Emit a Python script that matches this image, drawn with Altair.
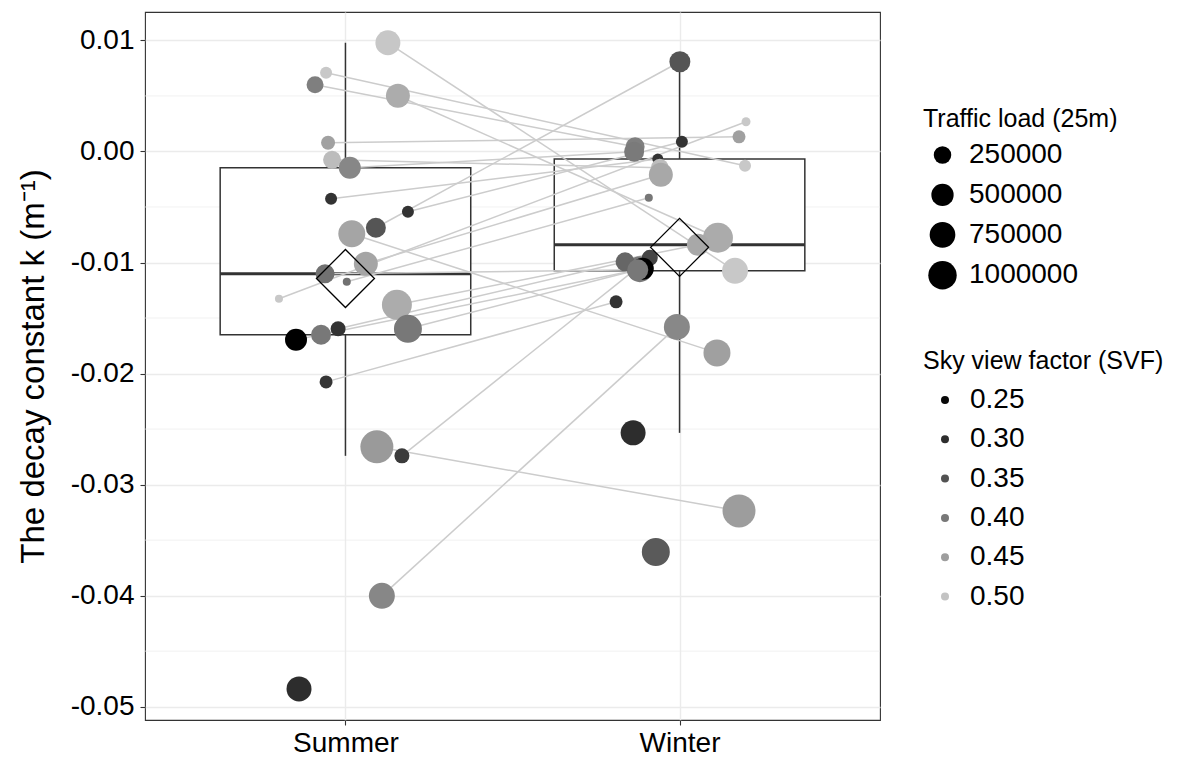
import altair as alt
import numpy as np
import pandas as pd

FONT = "Liberation Sans"

# ---------------- data ----------------
seasons = ["Summer", "Winter"]
y_title = "The decay constant k (m\u207b\u00b9)"
y_ticks = [-0.05, -0.04, -0.03, -0.02, -0.01, 0.00, 0.01]
y_minor = [-0.045, -0.035, -0.025, -0.015, -0.005, 0.005]
traffic_ticks = [250000, 500000, 750000, 1000000]
svf_ticks = [0.25, 0.30, 0.35, 0.40, 0.45, 0.50]

# Summer measurements (one per site)
summer_site = [1, 2, 3, 4, 5, 6, 7, 8, 9, 10, 11, 12, 13, 14, 15, 16, 17, 18, 19, 20, 21, 22, 23, 24, 25]
summer_k = [0.00979, 0.00709, 0.00601, 0.00502, 0.00078, -0.00075, -0.00147, -0.00426, -0.00543, -0.00687,
            -0.00741, -0.01011, -0.01101, -0.01174, -0.01327, -0.01381, -0.01597, -0.01597, -0.01651, -0.01696,
            -0.02075, -0.02660, -0.02741, -0.04002, -0.04840]
summer_jitter = [0.127, -0.058, -0.091, 0.157, -0.052, -0.040, 0.013, -0.043, 0.187, 0.091,
                 0.019, 0.061, -0.061, 0.004, -0.199, 0.154, 0.187, -0.022, -0.073, -0.148,
                 -0.058, 0.094, 0.169, 0.109, -0.139]
summer_svf = [0.505, 0.507, 0.41, 0.47, 0.455, 0.49, 0.42, 0.308, 0.308, 0.353,
              0.46, 0.46, 0.39, 0.39, 0.507, 0.47, 0.40, 0.308, 0.40, 0.24,
              0.31, 0.445, 0.318, 0.42, 0.30]
summer_traffic = [693000, 85000, 230000, 617000, 132000, 271000, 481000, 85000, 85000, 366000,
                  862000, 617000, 316000, 27000, 27000, 1165000, 957000, 161000, 366000, 481000,
                  107000, 1532000, 161000, 775000, 693000]

# Winter measurements
winter_site = [10, 15, 9, 5, 3, 7, 8, 2, 6, 12, 14, 4, 16, 1, 17, 18, 23, 20, 13, 21, 24, 11, 26, 22, 27]
winter_k = [0.00808, 0.00268, 0.00087, 0.00132, 0.00042, -0.00003, -0.00068, -0.00129, -0.00147, -0.00210,
            -0.00417, -0.00777, -0.00840, -0.01075, -0.01060, -0.00994, -0.00958, -0.01057, -0.01066, -0.01354,
            -0.01580, -0.01814, -0.02534, -0.03237, -0.03607]
winter_jitter = [0.001, 0.199, 0.007, 0.178, -0.133, -0.136, -0.065, 0.196, -0.059, -0.056,
                 -0.092, 0.115, 0.055, 0.166, -0.119, -0.163, -0.089, -0.110, -0.125, -0.190,
                 -0.008, 0.112, -0.139, 0.178, -0.071]
winter_svf = [0.353, 0.507, 0.308, 0.453, 0.41, 0.403, 0.308, 0.507, 0.492, 0.464,
              0.399, 0.468, 0.464, 0.507, 0.40, 0.376, 0.33, 0.24, 0.40, 0.308,
              0.421, 0.453, 0.30, 0.449, 0.36]
winter_traffic = [421000, 37000, 85000, 107000, 316000, 366000, 66000, 85000, 271000, 617000,
                  27000, 1165000, 481000, 775000, 775000, 316000, 193000, 481000, 421000, 107000,
                  775000, 862000, 693000, 1532000, 957000]

# ---------------- tables ----------------
pts = pd.concat([
    pd.DataFrame({"site": summer_site, "season": seasons[0], "pos": 1, "jit": summer_jitter,
                  "k": summer_k, "svf": summer_svf, "traffic": summer_traffic}),
    pd.DataFrame({"site": winter_site, "season": seasons[1], "pos": 2, "jit": winter_jitter,
                  "k": winter_k, "svf": winter_svf, "traffic": winter_traffic}),
], ignore_index=True)
pts["x"] = pts["pos"] + pts["jit"]
pts["order"] = np.arange(len(pts))

paired = pts.groupby("site")["season"].transform("nunique") == 2
lines_df = pts[paired].copy()

rows = []
for i, s in enumerate(seasons):
    v = np.sort(pts.loc[pts["season"] == s, "k"].to_numpy())
    q1, med, q3 = np.percentile(v, [25, 50, 75])
    iqr = q3 - q1
    lo = v[v >= q1 - 1.5 * iqr].min()
    hi = v[v <= q3 + 1.5 * iqr].max()
    rows.append(dict(season=s, pos=i + 1, q1=q1, med=med, q3=q3, lo=lo, hi=hi, mean=v.mean()))
box_df = pd.DataFrame(rows)
BOX_HALF = 0.375
box_df["xl"] = box_df["pos"] - BOX_HALF
box_df["xr"] = box_df["pos"] + BOX_HALF

minor_df = pd.DataFrame({"v": y_minor})

# ---------------- scales / axes ----------------
xs = alt.Scale(domain=[0.4, 2.6], nice=False, zero=False)
ys = alt.Scale(domain=[-0.0512, 0.01256], nice=False, zero=False)

x_label_expr = " : ".join([f"datum.value == {i + 1} ? '{s}'" for i, s in enumerate(seasons[:-1])] + [f"'{seasons[-1]}'"])
X_AXIS = alt.Axis(values=[1, 2], labelExpr=x_label_expr, grid=True, labelPadding=4, title=None)
Y_AXIS = alt.Axis(values=y_ticks, labelExpr="replace(format(datum.value, '.2f'), '\u2212', '-')",
                  grid=True, labelPadding=6, titlePadding=20)


def X(f):
    return alt.X(f, type="quantitative", scale=xs, axis=X_AXIS, title=None)


def Y(f):
    return alt.Y(f, type="quantitative", scale=ys, axis=Y_AXIS, title=y_title)


LINE = "#333333"

minor = alt.Chart(minor_df).mark_rule(color="#ebebeb", strokeWidth=0.7).encode(y=Y("v"))

box = alt.Chart(box_df).mark_rect(fill="white", stroke=LINE, strokeWidth=1.5).encode(
    x=X("xl"), x2="xr", y=Y("q1"), y2="q3")
whisk_hi = alt.Chart(box_df).mark_rule(color=LINE, strokeWidth=1.5).encode(x=X("pos"), y=Y("q3"), y2="hi")
whisk_lo = alt.Chart(box_df).mark_rule(color=LINE, strokeWidth=1.5).encode(x=X("pos"), y=Y("lo"), y2="q1")
median = alt.Chart(box_df).mark_rule(color=LINE, strokeWidth=3).encode(x=X("xl"), x2="xr", y=Y("med"))

links = alt.Chart(lines_df).mark_line(color="#cccccc", strokeWidth=1.5).encode(
    x=X("x"), y=Y("k"), detail="site:N", order="pos:Q")

points = alt.Chart(pts).mark_circle(opacity=1, strokeWidth=0).encode(
    x=X("x"), y=Y("k"),
    size=alt.Size("traffic:Q",
                  scale=alt.Scale(type="pow", exponent=0.7, domain=[0, 1600000], range=[0, 1122]),
                  legend=alt.Legend(title="Traffic load (25m)", values=traffic_ticks, format="d",
                                    orient="none", legendX=778, legendY=95, titleLimit=400,
                                    symbolFillColor="black", symbolStrokeWidth=0, symbolOpacity=1,
                                    symbolOffset=5, labelOffset=12, rowPadding=11.9, titlePadding=9)),
    color=alt.Color("svf:Q",
                    scale=alt.Scale(domain=[0.24, 0.52], range=["#000000", "#d2d2d2"], interpolate="rgb"),
                    legend=alt.Legend(type="symbol", title="Sky view factor (SVF)", values=svf_ticks,
                                      format=".2f", orient="none", legendX=778, legendY=337, titleLimit=400,
                                      symbolSize=64, symbolType="circle", symbolStrokeWidth=0,
                                      symbolOpacity=1, symbolOffset=8, labelOffset=11,
                                      rowPadding=11.3, titlePadding=12)),
    order="order:Q",
)

means = alt.Chart(box_df).mark_point(shape="diamond", filled=False, color="black", strokeWidth=1.3,
                                     size=3364, opacity=1).encode(x=X("pos"), y=Y("mean"))

chart = alt.layer(minor, box, whisk_hi, whisk_lo, median, links, points, means).properties(
    width=735, height=708,
    padding={"left": 137, "top": 4, "right": 290, "bottom": 38},
    autosize=alt.AutoSizeParams(type="none"),
).configure_view(
    stroke="#333333", strokeWidth=1.1
).configure_axis(
    labelFont=FONT, titleFont=FONT, labelFontSize=28, titleFontSize=33, titleFontWeight="normal",
    labelColor="black", titleColor="black", tickColor="#333333", tickSize=5, tickWidth=1.1,
    gridColor="#ebebeb", gridWidth=1.4, domain=False
).configure_legend(
    labelFont=FONT, titleFont=FONT, labelFontSize=28, titleFontSize=25, titleFontWeight="normal",
    labelColor="black", titleColor="black", padding=0
)

chart.save("out.html", embed_options={"renderer": "svg", "actions": False})
